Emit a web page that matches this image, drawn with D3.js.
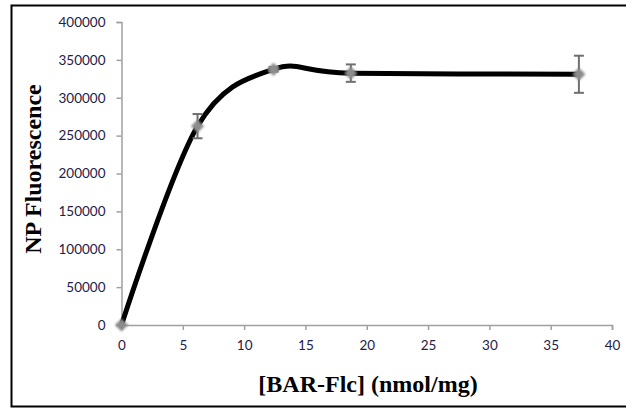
<!DOCTYPE html>
<html><head><meta charset="utf-8">
<script src="https://d3js.org/d3.v7.min.js"></script>
<style>body{margin:0;background:#fff;} svg{display:block;}</style>
</head><body>
<script>
const concentrations = [0, 6.2, 12.4, 18.7, 37.3];
const fluorescence = [0, 262500, 337500, 332500, 331000];
const errors = [0, 16000, 3000, 11500, 24500];
const xTicks = [0, 5, 10, 15, 20, 25, 30, 35, 40];
const yTicks = [0, 50000, 100000, 150000, 200000, 250000, 300000, 350000, 400000];
const xTitle = "[BAR-Flc] (nmol/mg)";
const yTitle = "NP Fluorescence";

const W = 626, H = 409;
const svg = d3.select("body").append("svg").attr("width", W).attr("height", H);
const defs = svg.append("defs");
const f = defs.append("filter").attr("id","sh").attr("x","-50%").attr("y","-50%").attr("width","200%").attr("height","200%");
f.append("feGaussianBlur").attr("stdDeviation",0.8);

// outer frame
svg.append("rect").attr("x",11.5).attr("y",5.5).attr("width",630).attr("height",401)
  .attr("fill","none").attr("stroke","#000").attr("stroke-width",2);

const x = d3.scaleLinear().domain([0,40]).range([121.5,612]);
const y = d3.scaleLinear().domain([0,400000]).range([325,22]);

const tickFont = "Lato, 'Open Sans', sans-serif";
const tickColor = "#1d2147";

// y axis
const ya = svg.append("g").attr("transform",`translate(${x(0)},0)`)
  .call(d3.axisLeft(y).tickValues(yTicks).tickSize(5).tickPadding(11).tickFormat(d3.format("d")));
ya.select(".domain").attr("stroke","#a0a0a0").attr("stroke-width",1.5);
ya.selectAll(".tick line").attr("stroke","#a0a0a0").attr("stroke-width",1.5);
ya.selectAll(".tick text").attr("font-family",tickFont).attr("font-size",13.5).attr("fill",tickColor);

// x axis
const xa = svg.append("g").attr("transform",`translate(0,${y(0)})`)
  .call(d3.axisBottom(x).tickValues(xTicks).tickSize(5).tickPadding(10));
xa.select(".domain").attr("stroke","#a0a0a0").attr("stroke-width",1.5);
xa.selectAll(".tick line").attr("stroke","#a0a0a0").attr("stroke-width",1.5);
xa.selectAll(".tick text").attr("font-family",tickFont).attr("font-size",13.5).attr("fill",tickColor);

// titles
svg.append("text").attr("x",368).attr("y",392).attr("text-anchor","middle")
  .attr("font-family","'Liberation Serif', 'Times New Roman', serif").attr("font-weight","bold")
  .attr("font-size",24).attr("fill","#000").text(xTitle);
svg.append("text").attr("transform","translate(41,169) rotate(-90)").attr("text-anchor","middle")
  .attr("font-family","'Liberation Serif', 'Times New Roman', serif").attr("font-weight","bold")
  .attr("font-size",24).attr("fill","#000").text(yTitle);

const data = concentrations.map((c,i)=>({x:c,y:fluorescence[i],e:errors[i]}));

// smoothed line
const line = d3.line().x(d=>x(d.x)).y(d=>y(d.y)).curve(d3.curveCardinal.tension(0));
svg.append("path").datum(data).attr("d",line).attr("fill","none")
  .attr("stroke","#000").attr("stroke-width",5).attr("stroke-linecap","round");

// error bars
const eb = svg.append("g").attr("stroke","#6f6f6f").attr("stroke-width",2);
data.filter(d=>d.e>0).forEach(d=>{
  eb.append("line").attr("x1",x(d.x)).attr("x2",x(d.x)).attr("y1",y(d.y+d.e)).attr("y2",y(d.y-d.e));
  eb.append("line").attr("x1",x(d.x)-5).attr("x2",x(d.x)+5).attr("y1",y(d.y+d.e)).attr("y2",y(d.y+d.e));
  eb.append("line").attr("x1",x(d.x)-5).attr("x2",x(d.x)+5).attr("y1",y(d.y-d.e)).attr("y2",y(d.y-d.e));
});

// markers
svg.append("g").selectAll("path").data(data).join("path")
  .attr("d",d3.symbol().type(d3.symbolDiamond2).size(110))
  .attr("transform",d=>`translate(${x(d.x)},${y(d.y)})`)
  .attr("fill","#8c8c8c").attr("filter","url(#sh)");
</script>
</body></html>
